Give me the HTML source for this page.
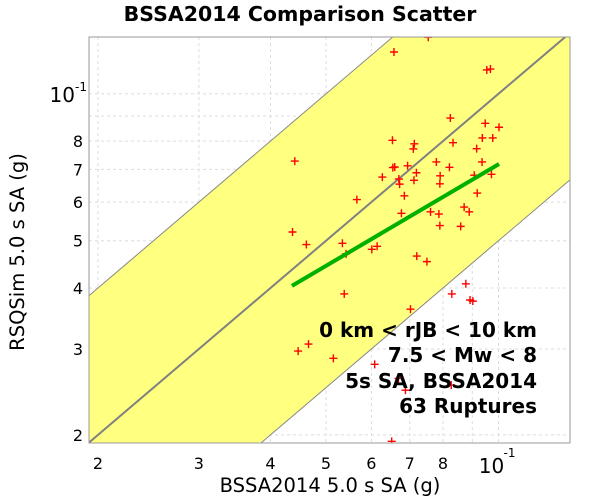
<!DOCTYPE html>
<html><head><meta charset="utf-8"><style>
html,body{margin:0;background:#fff;overflow:hidden;width:600px;height:500px;}
svg{display:block;font-family:"DejaVu Sans","Liberation Sans",sans-serif;}
</style></head><body>
<svg id="chart" width="600" height="500" viewBox="0 0 600 500">
<text x="300" y="21" text-anchor="middle" font-size="20.5" font-weight="bold">BSSA2014 Comparison Scatter</text>
<g id="plot"></g>
<text x="330" y="492" text-anchor="middle" font-size="19.5">BSSA2014 5.0 s SA (g)</text>
<text transform="translate(24,252) rotate(-90)" text-anchor="middle" font-size="19.5">RSQSim 5.0 s SA (g)</text>
<g font-size="20" font-weight="bold" text-anchor="end">
<text x="537" y="337">0 km &lt; rJB &lt; 10 km</text>
<text x="537" y="362">7.5 &lt; Mw &lt; 8</text>
<text x="537" y="388">5s SA, BSSA2014</text>
<text x="537" y="413">63 Ruptures</text>
</g>
</svg>
<script>
const xVals=[0.0754,0.0657,0.0954,0.0968,0.0824,0.0948,0.1002,0.0653,0.0713,0.0833,0.0937,0.0977,0.0710,0.0916,0.0441,0.0779,0.0936,0.0654,0.0659,0.0694,0.0821,0.0719,0.0627,0.0670,0.0791,0.0907,0.0972,0.0712,0.0672,0.0790,0.0918,0.0685,0.0566,0.0871,0.0889,0.0677,0.0761,0.0787,0.0437,0.0790,0.0859,0.0462,0.0534,0.0601,0.0614,0.0542,0.0720,0.0750,0.0877,0.0829,0.0892,0.0902,0.0538,0.0702,0.0447,0.0466,0.0515,0.0608,0.0688,0.0827,0.0651,0.0669];
const yVals=[0.1306,0.1218,0.1119,0.1124,0.0892,0.0870,0.0854,0.0803,0.0790,0.0794,0.0812,0.0812,0.0771,0.0772,0.0728,0.0725,0.0725,0.0706,0.0708,0.0712,0.0707,0.0689,0.0675,0.0669,0.0679,0.0681,0.0684,0.0665,0.0653,0.0654,0.0626,0.0618,0.0607,0.0586,0.0573,0.0569,0.0573,0.0567,0.0521,0.0537,0.0535,0.0491,0.0494,0.0480,0.0487,0.0470,0.0465,0.0453,0.0408,0.0389,0.0378,0.0376,0.0389,0.0362,0.0297,0.0307,0.0287,0.0279,0.0247,0.0253,0.0194,0.0261];
const fitX=[0.0436,0.1002];
const fitY=[0.0404,0.0718];
const xTicks=[0.02,0.03,0.04,0.05,0.06,0.07,0.08,0.09,0.1];
const xTickLabels=["2","3","4","5","6","7","8","",""];
const yTicks=[0.02,0.03,0.04,0.05,0.06,0.07,0.08,0.09,0.1];
const yTickLabels=["2","3","4","5","6","7","8","",""];
const bandFactor=2;

const L=89,R=570,T=37,B=443;
const X=v=>98+573*Math.log10(v/0.02);
const Y=v=>288-488*Math.log10(v/0.04);
const xMin=0.02*Math.pow(10,(L-98)/573), xMax=0.02*Math.pow(10,(R-98)/573);
const NS="http://www.w3.org/2000/svg";
const g=document.getElementById('plot');
function mk(t,a,p){const e=document.createElementNS(NS,t);for(const k in a)e.setAttribute(k,a[k]);(p||g).appendChild(e);return e;}
const defs=mk('defs',{});const cp=mk('clipPath',{id:'clip'},defs);mk('rect',{x:L,y:T,width:R-L,height:B-T},cp);
xTicks.forEach((v,i)=>{const l=mk('line',{x1:X(v),x2:X(v),y1:T,y2:B,stroke:'#ddd','stroke-dasharray':'3,3'});


if(xTickLabels[i]){const t=mk('text',{x:X(v),y:469,'text-anchor':'middle','font-size':'16'});t.textContent=xTickLabels[i];

}});
yTicks.forEach((v,i)=>{const l=mk('line',{x1:L,x2:R,y1:Y(v),y2:Y(v),stroke:'#ddd','stroke-dasharray':'3,3'});


if(yTickLabels[i]){const t=mk('text',{x:83,y:Y(v)+6,'text-anchor':'end','font-size':'16'});t.textContent=yTickLabels[i];

}});
const cg=mk('g',{'clip-path':'url(#clip)'});
const band=mk('polygon',{points:[[X(xMin),Y(xMin*bandFactor)],[X(xMax),Y(xMax*bandFactor)],[X(xMax),Y(xMax/bandFactor)],[X(xMin),Y(xMin/bandFactor)]].map(p=>p.join(',')).join(' '),fill:'#ffff80',stroke:'none'},cg);


[bandFactor,1/bandFactor].forEach(f=>{const l=mk('line',{x1:X(xMin),y1:Y(xMin*f),x2:X(xMax),y2:Y(xMax*f),stroke:'#888','stroke-width':1},cg);

});
const d=mk('line',{x1:X(xMin),y1:Y(xMin),x2:X(xMax),y2:Y(xMax),stroke:'#808080','stroke-width':2},cg);


xVals.forEach((xv,i)=>{const px=X(xv),py=Y(yVals[i]);
const p=mk('path',{d:`M${px-4},${py}H${px+4}M${px},${py-4}V${py+4}`,stroke:'#ff0000','stroke-width':1.4},cg);

});
const f=mk('line',{x1:X(fitX[0]),y1:Y(fitY[0]),x2:X(fitX[1]),y2:Y(fitY[1]),stroke:'#00b000','stroke-width':4},cg);


const fr=mk('rect',{x:L,y:T,width:R-L,height:B-T,fill:'none',stroke:'#999'});


const xt=mk('text',{x:X(0.1)-7,y:473,'text-anchor':'middle','font-size':'20'});xt.textContent='10';


const xs=mk('text',{x:X(0.1)+5,y:457,'font-size':'12'});xs.textContent='-1';


const yt=mk('text',{x:75,y:Y(0.1)+8,'text-anchor':'end','font-size':'20'});yt.textContent='10';


const ys=mk('text',{x:75,y:Y(0.1)-3,'font-size':'12'});ys.textContent='-1';


</script>
</body></html>
